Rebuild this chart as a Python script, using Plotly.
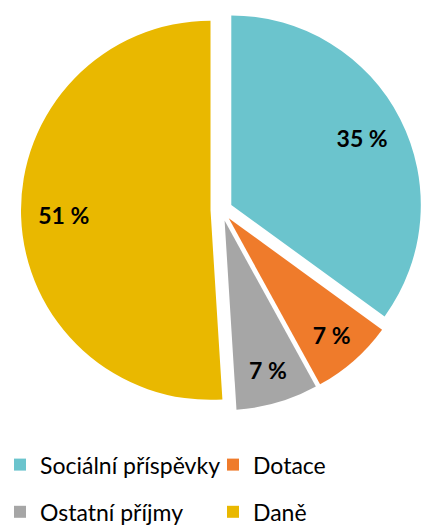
import plotly.graph_objects as go

# Revenue structure (shares in %)
categories = ["Sociální příspěvky", "Dotace", "Ostatní příjmy", "Daně"]
shares = [35, 7, 7, 51]
colors = ["#6BC4CD", "#EF7B2B", "#A6A6A6", "#E9B800"]

W, H = 422, 525
pull = 0.058
domain = dict(x=[21 / W, 1.0], y=[1 - 411 / H, 1 - 9 / H])

# Legend rows are spaced by a large line box; the visible text uses a smaller size
legend_row_font = 34
legend_text_size = 23
legend_labels = [
    f'<span style="font-size:{legend_text_size}px;baseline-shift:4px">{c}</span>'
    for c in categories
]

fig = go.Figure()

# Filled slices, exploded, starting at 12 o'clock and running clockwise
fig.add_trace(go.Pie(
    labels=legend_labels,
    values=shares,
    sort=False,
    direction="clockwise",
    rotation=0,
    pull=[pull] * len(shares),
    domain=domain,
    marker=dict(colors=colors, line=dict(width=0)),
    textinfo="none",
    hoverinfo="label+percent",
    showlegend=True,
))

# Percentage labels placed in the outer ring of each slice
fig.add_trace(go.Pie(
    labels=legend_labels,
    values=shares,
    sort=False,
    direction="clockwise",
    rotation=0,
    hole=0.55,
    pull=[pull] * len(shares),
    domain=domain,
    marker=dict(colors=["rgba(0,0,0,0)"] * len(shares), line=dict(width=0)),
    texttemplate="%{value} %",
    textposition="inside",
    insidetextorientation="horizontal",
    textfont=dict(family="Lato", size=23, color="#000000", weight="bold"),
    hoverinfo="skip",
    showlegend=False,
))

fig.update_layout(
    width=W,
    height=H,
    margin=dict(l=0, r=0, t=0, b=0, autoexpand=False),
    paper_bgcolor="#FFFFFF",
    plot_bgcolor="#FFFFFF",
    font=dict(family="Lato", color="#000000"),
    legend=dict(
        orientation="h",
        x=0.0,
        xanchor="left",
        y=1 - 436 / H,
        yanchor="top",
        entrywidth=168,
        font=dict(family="Lato", size=legend_row_font, color="#000000"),
        itemclick=False,
    ),
)

fig.write_html("out.html")
